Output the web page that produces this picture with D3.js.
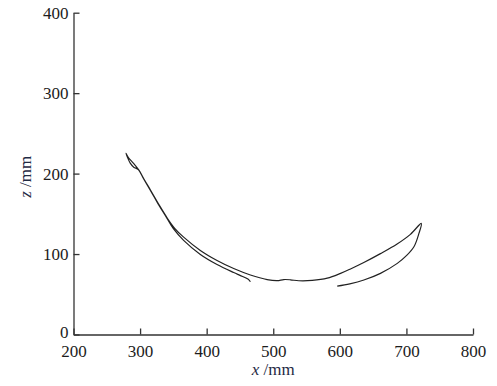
<!DOCTYPE html>
<html>
<head>
<meta charset="utf-8">
<script src="https://cdn.jsdelivr.net/npm/d3@7"></script>
<style>
  body { margin: 0; background: #fff; }
  svg text { font-family: "Liberation Serif", "DejaVu Serif", serif; }
</style>
</head>
<body>
<div id="chart"></div>
<script>
// trajectory (x mm, z mm), in drawing order
const xs = [465.7, 462.0, 450.0, 440.6, 415.6, 390.5, 365.4, 350.0, 340.0, 328.0, 315.3, 305.0, 297.4,
            290.5, 285.2, 278.8,
            282.7, 290.2, 298.5, 306.0, 316.0, 329.0, 341.0, 352.0, 365.4, 390.5, 415.6, 440.6, 465.7,
            490.8, 505.9, 515.8, 525.9, 538.3, 558.5, 581.1, 601.1, 616.0, 636.0, 661.0, 686.0, 706.0,
            722.4,
            718.8, 711.3, 700.0, 686.3, 661.0, 636.1, 615.0, 596.1];
const zs = [65.6, 69.0, 73.5, 77.0, 87.0, 99.5, 117.0, 131.5, 145.0, 161.0, 179.5, 194.0, 205.0,
            208.0, 213.0, 225.1,
            219.6, 212.7, 204.0, 193.0, 179.0, 160.5, 144.5, 132.0, 121.0, 104.5, 92.0, 82.0, 74.0,
            68.3, 67.0, 68.3, 68.0, 66.8, 67.2, 70.0, 76.0, 81.5, 89.5, 100.5, 112.5, 124.5,
            138.1,
            125.7, 109.1, 98.0, 88.4, 76.0, 67.7, 63.0, 60.2];

const xTicks = [200, 300, 400, 500, 600, 700, 800];
const zTicks = [0, 100, 200, 300, 400];

const width = 497, height = 386;
const margin = {left: 73.5, right: 24, top: 12.7, bottom: 51.5};

const svg = d3.select("#chart").append("svg")
  .attr("width", width)
  .attr("height", height);

const x = d3.scaleLinear().domain([200, 800]).range([margin.left, width - margin.right]);
const y = d3.scaleLinear().domain([0, 400]).range([height - margin.bottom, margin.top]);

const xAxis = svg.append("g")
  .attr("transform", `translate(0,${height - margin.bottom})`)
  .call(d3.axisBottom(x).tickValues(xTicks).tickSizeInner(-6).tickSizeOuter(0).tickPadding(10));

const yAxis = svg.append("g")
  .attr("transform", `translate(${margin.left},0)`)
  .call(d3.axisLeft(y).tickValues(zTicks).tickSizeInner(-6).tickSizeOuter(0).tickPadding(5));

[xAxis, yAxis].forEach(a => {
  a.selectAll("path, line").attr("stroke", "#333").attr("stroke-width", 1.3);
  a.selectAll("text")
    .attr("fill", "#1c1c1c")
    .style("font-size", "17px")
    .style("font-family", "'Liberation Serif', serif");
});
// keep the "0" clear of the "200" below it
yAxis.selectAll(".tick text").filter(d => d === 0).attr("dy", "0.2em");

// axis titles
const xt = svg.append("text")
  .attr("x", x(500))
  .attr("y", 375)
  .attr("text-anchor", "middle")
  .attr("fill", "#1f2a44")
  .style("font-size", "17px");
xt.append("tspan").attr("font-style", "italic").text("x");
xt.append("tspan").text(" /mm");

const zt = svg.append("text")
  .attr("transform", `translate(31,${y(196)}) rotate(-90)`)
  .attr("text-anchor", "middle")
  .attr("fill", "#1f2a44")
  .style("font-size", "17px");
zt.append("tspan").attr("font-style", "italic").text("z");
zt.append("tspan").text(" /mm");

// the curve
const pts = xs.map((d, i) => [d, zs[i]]);
const line = d3.line()
  .x(d => x(d[0]))
  .y(d => y(d[1]))
  .curve(d3.curveCatmullRom.alpha(0.5));

svg.append("path")
  .datum(pts)
  .attr("fill", "none")
  .attr("stroke", "#222")
  .attr("stroke-width", 1.2)
  .attr("d", line);
</script>
</body>
</html>
